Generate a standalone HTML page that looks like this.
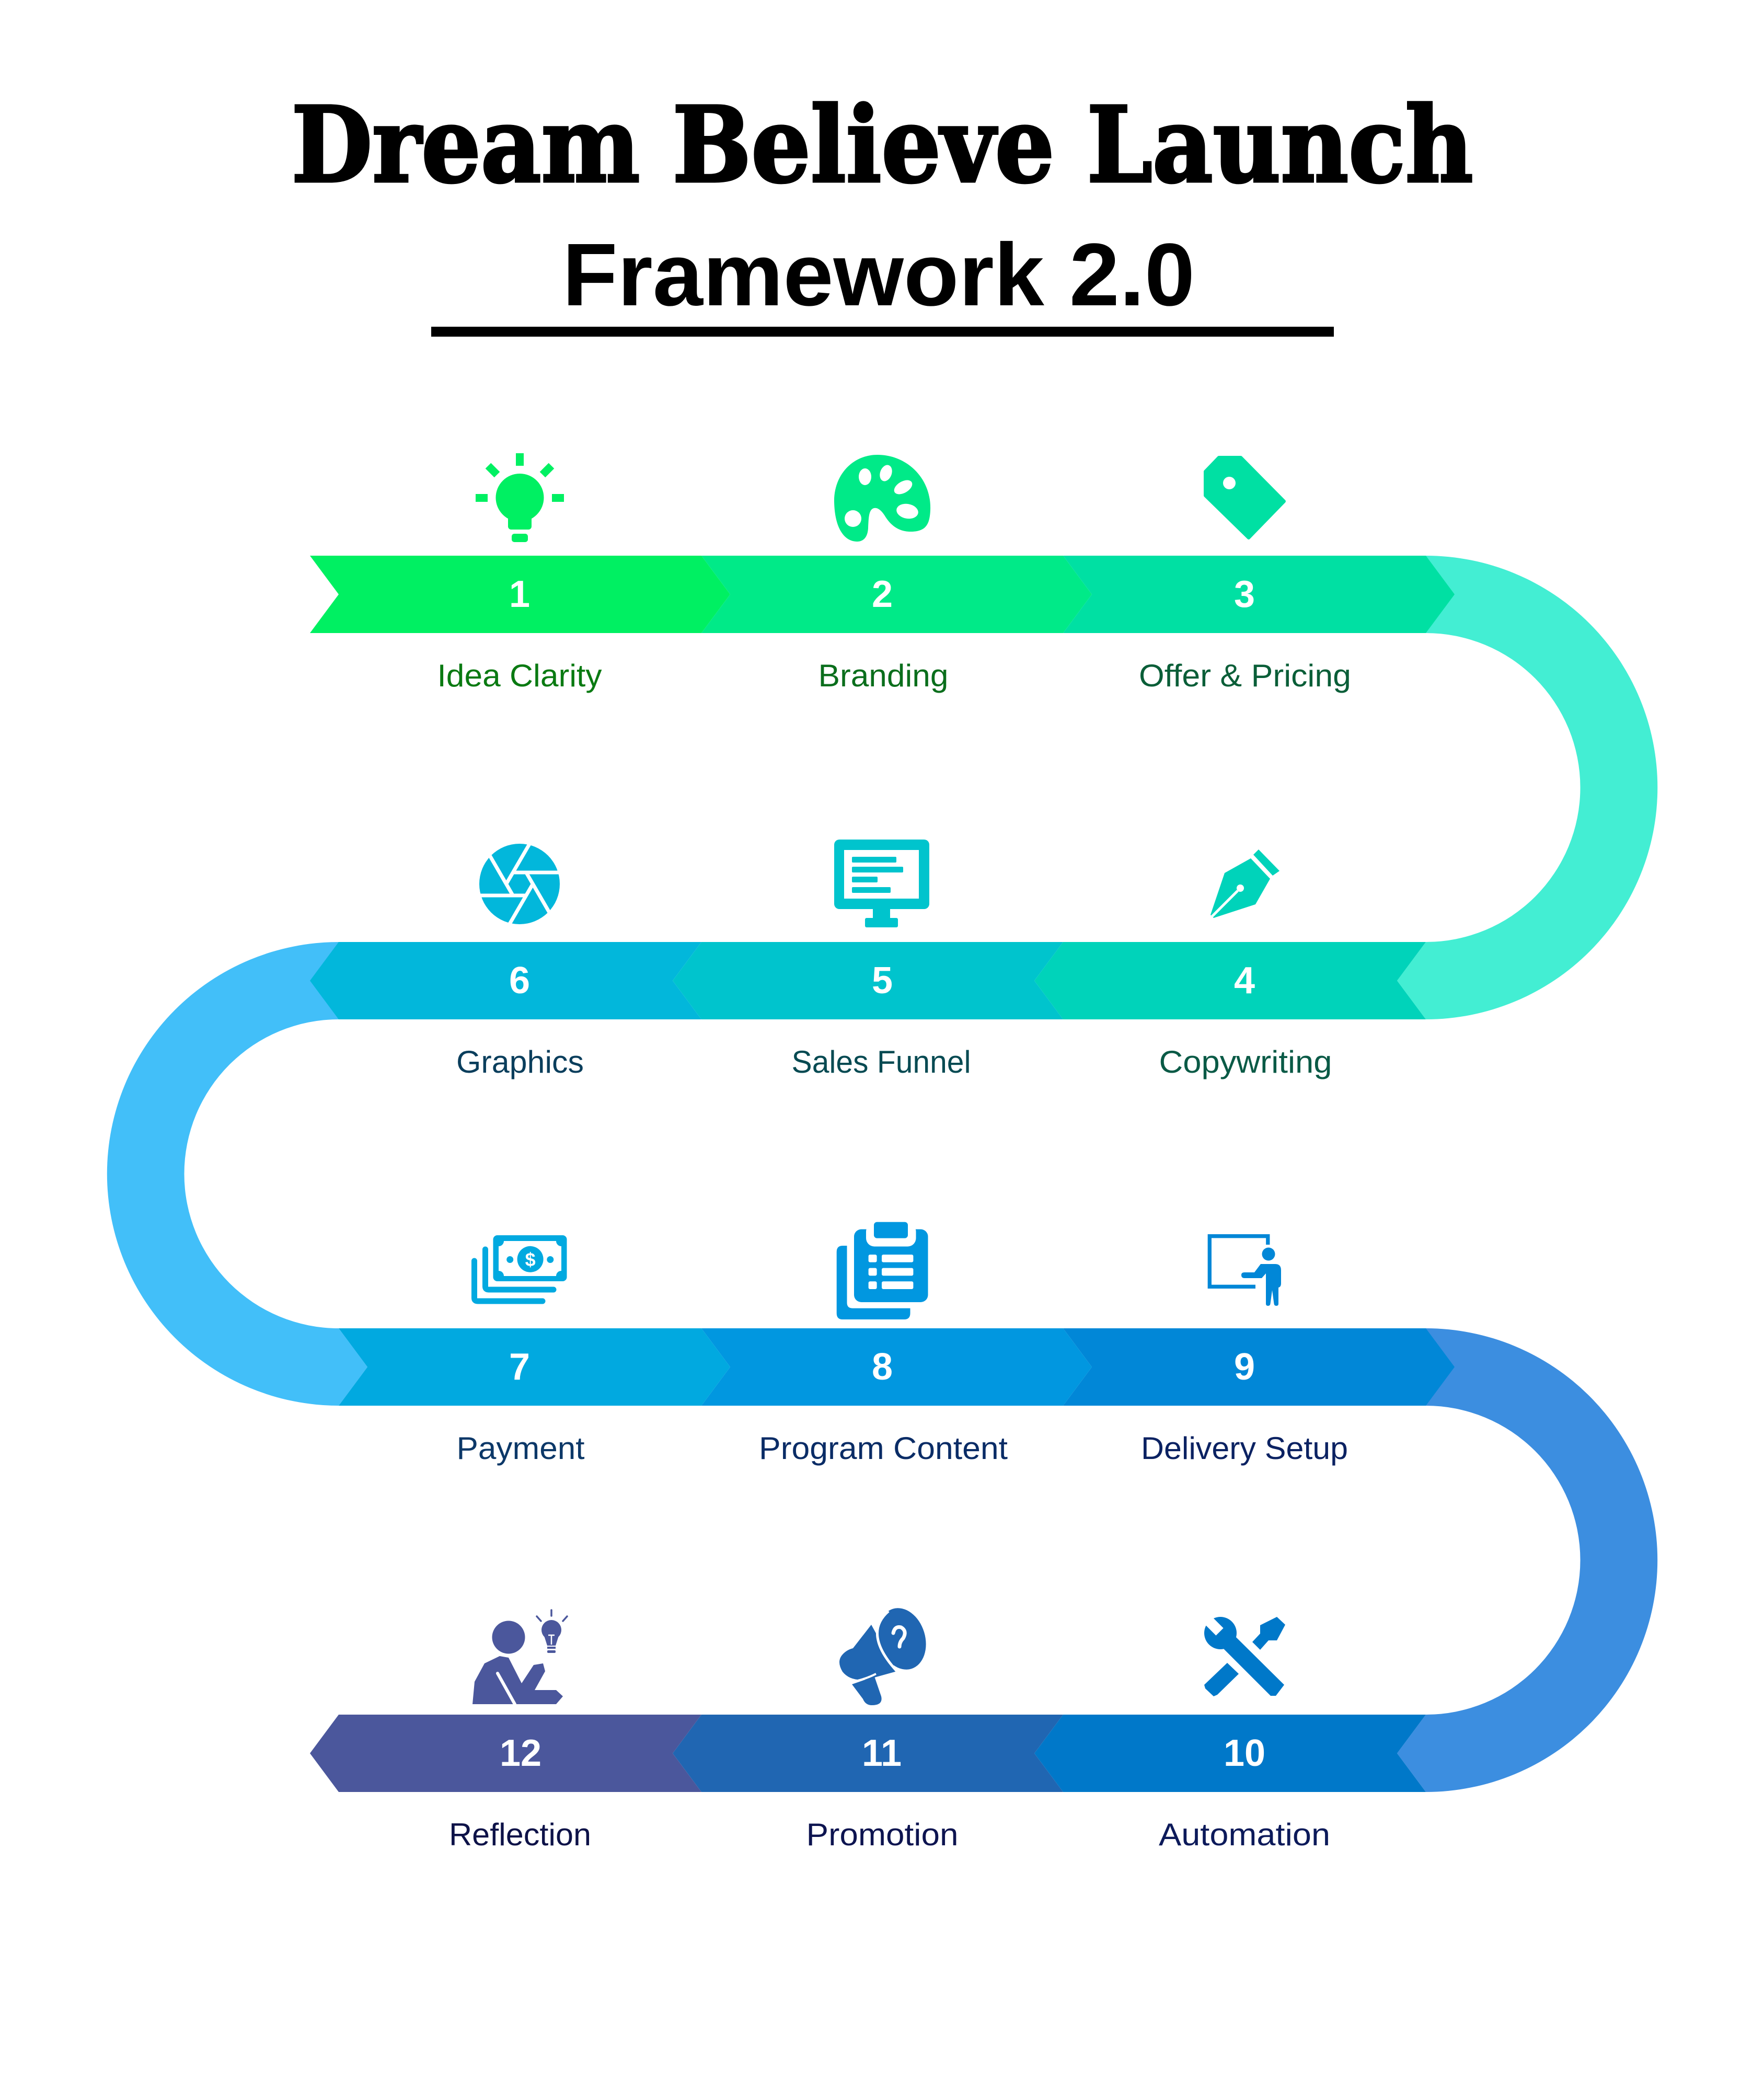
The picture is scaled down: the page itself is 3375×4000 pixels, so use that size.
<!DOCTYPE html>
<html>
<head>
<meta charset="utf-8">
<style>
html,body{margin:0;padding:0;background:#fff;}
svg{display:block;}
</style>
</head>
<body>
<svg xmlns="http://www.w3.org/2000/svg" width="3375" height="4000" viewBox="0 0 3375 4000">
<rect width="3375" height="4000" fill="#fff"/>

<!-- Title -->
<text x="1688" y="347" text-anchor="middle" font-family="'DejaVu Serif','Liberation Serif',serif" font-weight="bold" font-size="199" textLength="2261" lengthAdjust="spacingAndGlyphs" fill="#000" stroke="#000" stroke-width="5">Dream Believe Launch</text>
<text x="1681" y="584" text-anchor="middle" font-family="'Liberation Sans',sans-serif" font-weight="bold" font-size="170" textLength="1210" lengthAdjust="spacingAndGlyphs" fill="#000">Framework 2.0</text>
<rect x="825" y="625" width="1727" height="19" fill="#000"/>

<!-- Arcs -->
<path d="M2728,1063 A443.5,443.5 0 0 1 2728,1950 L2673,1876 L2728,1802 A295.5,295.5 0 0 0 2728,1211 Z" fill="#43EED3"/>
<path d="M648,1802 A443.5,443.5 0 0 0 648,2689 L703,2615 L648,2541 A295.5,295.5 0 0 1 648,1950 Z" fill="#42BFF9"/>
<path d="M2728,2541 A443.5,443.5 0 0 1 2728,3428 L2673,3354 L2728,3280 A295.5,295.5 0 0 0 2728,2689 Z" fill="#3C8EE0"/>

<!-- Row 1 -->
<polygon points="593,1063 1342,1063 1397,1137 1342,1211 593,1211 648,1137" fill="#00F062"/>
<polygon points="1342,1063 2034,1063 2089,1137 2034,1211 1342,1211 1397,1137" fill="#00EA88"/>
<polygon points="2034,1063 2728,1063 2783,1137 2728,1211 2034,1211 2089,1137" fill="#00E0A3"/>
<!-- Row 2 -->
<polygon points="2728,1802 2034,1802 1979,1876 2034,1950 2728,1950 2673,1876" fill="#00D3BA"/>
<polygon points="2034,1802 1342,1802 1287,1876 1342,1950 2034,1950 1979,1876" fill="#00C4CD"/>
<polygon points="1342,1802 648,1802 593,1876 648,1950 1342,1950 1287,1876" fill="#02B7DB"/>
<!-- Row 3 -->
<polygon points="648,2541 1342,2541 1397,2615 1342,2689 648,2689 703,2615" fill="#01A9E0"/>
<polygon points="1342,2541 2034,2541 2089,2615 2034,2689 1342,2689 1397,2615" fill="#0197E0"/>
<polygon points="2034,2541 2728,2541 2783,2615 2728,2689 2034,2689 2089,2615" fill="#0187D7"/>
<!-- Row 4 -->
<polygon points="2728,3280 2034,3280 1979,3354 2034,3428 2728,3428 2673,3354" fill="#0078C9"/>
<polygon points="2034,3280 1342,3280 1287,3354 1342,3428 2034,3428 1979,3354" fill="#2066B2"/>
<polygon points="1342,3280 648,3280 593,3354 648,3428 1342,3428 1287,3354" fill="#4B579C"/>

<!-- Numbers -->
<g font-family="'Liberation Sans',sans-serif" font-weight="bold" font-size="72" fill="#fff" text-anchor="middle">
<text x="994" y="1161">1</text>
<text x="1688" y="1161">2</text>
<text x="2381" y="1161">3</text>
<text x="994" y="1900">6</text>
<text x="1688" y="1900">5</text>
<text x="2381" y="1900">4</text>
<text x="994" y="2639">7</text>
<text x="1688" y="2639">8</text>
<text x="2381" y="2639">9</text>
<text x="996" y="3378">12</text>
<text x="1687" y="3378">11</text>
<text x="2381" y="3378">10</text>
</g>

<!-- Labels -->
<g font-family="'Liberation Sans',sans-serif" font-size="60" text-anchor="middle">
<text x="994" y="1313" fill="#0A7A12" textLength="315" lengthAdjust="spacingAndGlyphs">Idea Clarity</text>
<text x="1690" y="1313" fill="#0A6E1C" textLength="249" lengthAdjust="spacingAndGlyphs">Branding</text>
<text x="2382" y="1313" fill="#0A5E38" textLength="406" lengthAdjust="spacingAndGlyphs">Offer &amp; Pricing</text>
<text x="995" y="2052" fill="#0A3E5C" textLength="244" lengthAdjust="spacingAndGlyphs">Graphics</text>
<text x="1686" y="2052" fill="#064A52" textLength="343" lengthAdjust="spacingAndGlyphs">Sales Funnel</text>
<text x="2383" y="2052" fill="#0A5A46" textLength="331" lengthAdjust="spacingAndGlyphs">Copywriting</text>
<text x="996" y="2791" fill="#0C3868" textLength="245" lengthAdjust="spacingAndGlyphs">Payment</text>
<text x="1690" y="2791" fill="#0A2C66" textLength="476" lengthAdjust="spacingAndGlyphs">Program Content</text>
<text x="2381" y="2791" fill="#0B2262" textLength="396" lengthAdjust="spacingAndGlyphs">Delivery Setup</text>
<text x="995" y="3530" fill="#0D1248" textLength="272" lengthAdjust="spacingAndGlyphs">Reflection</text>
<text x="1688" y="3530" fill="#0D1450" textLength="291" lengthAdjust="spacingAndGlyphs">Promotion</text>
<text x="2381" y="3530" fill="#0C1A5A" textLength="328" lengthAdjust="spacingAndGlyphs">Automation</text>
</g>

<!-- Icon 1: light bulb -->
<g fill="#00F062">
<rect x="987" y="867" width="15" height="24"/>
<rect x="910" y="945" width="23" height="15"/>
<rect x="1056" y="945" width="23" height="15"/>
<line x1="934" y1="891" x2="951" y2="908" stroke="#00F062" stroke-width="15"/>
<line x1="1055" y1="891" x2="1038" y2="908" stroke="#00F062" stroke-width="15"/>
<circle cx="994.5" cy="952" r="46"/>
<rect x="972" y="978" width="45" height="35" rx="6"/>
<rect x="979" y="1021" width="31" height="16" rx="5"/>
</g>

<!-- Icon 2: palette -->
<path d="M1679,870 C1735,870 1782,915 1780,975 C1779,1005 1770,1016 1745,1017 C1720,1018 1705,1005 1695,990 C1688,978 1680,970 1672,972 C1662,975 1662,990 1661,1010 C1660,1030 1650,1036 1640,1036 C1615,1036 1597,1010 1596,960 C1595,910 1630,870 1679,870 Z" fill="#00EA88"/>
<g fill="#fff">
<ellipse cx="1655" cy="912" rx="12" ry="16"/>
<ellipse cx="1695" cy="905" rx="11" ry="16" transform="rotate(20 1695 905)"/>
<ellipse cx="1728" cy="932" rx="19" ry="11" transform="rotate(-30 1728 932)"/>
<ellipse cx="1736" cy="978" rx="21" ry="14" transform="rotate(10 1736 978)"/>
<circle cx="1632" cy="992" r="16"/>
</g>

<!-- Icon 3: tag -->
<path d="M2332,875 L2374,875 L2457,959 L2389,1029 L2306,948 L2306,902 Z" fill="#00E0A3" stroke="#00E0A3" stroke-width="6" stroke-linejoin="round"/>
<circle cx="2352" cy="924" r="12" fill="#fff"/>

<!-- Icon 6: aperture -->
<circle cx="994" cy="1691" r="77" fill="#02B7DB"/>
<g stroke="#fff" stroke-width="7" stroke-linecap="butt">
<line x1="981.3" y1="1669" x2="1080" y2="1669"/>
<line x1="1006.7" y1="1669" x2="1056" y2="1754"/>
<line x1="1019.4" y1="1691" x2="970" y2="1776"/>
<line x1="1006.7" y1="1713" x2="908" y2="1713"/>
<line x1="981.3" y1="1713" x2="932" y2="1628"/>
<line x1="968.6" y1="1691" x2="1018" y2="1606"/>
</g>

<!-- Icon 5: monitor -->
<g fill="#00C4CD">
<rect x="1596" y="1606" width="182" height="133" rx="10"/>
<rect x="1670" y="1735" width="33" height="24"/>
<rect x="1655" y="1756" width="63" height="18" rx="3"/>
</g>
<rect x="1615" y="1626" width="143" height="93" fill="#fff"/>
<g fill="#00C4CD">
<rect x="1630" y="1639" width="85" height="11" rx="2"/>
<rect x="1630" y="1658" width="98" height="11" rx="2"/>
<rect x="1630" y="1677" width="49" height="11" rx="2"/>
<rect x="1630" y="1697" width="74" height="11" rx="2"/>
</g>

<!-- Icon 4: pen nib -->
<g fill="#00D3BA">
<polygon points="2393,1642 2430,1681 2402,1730 2322,1756 2316,1750 2343,1670"/>
<polygon points="2408,1625 2448,1666 2435,1675 2398,1635"/>
</g>
<line x1="2319" y1="1753" x2="2368" y2="1704" stroke="#fff" stroke-width="5"/>
<circle cx="2373" cy="1699" r="7" fill="#fff"/>

<!-- Icon 7: money -->
<g fill="none" stroke="#01A9E0" stroke-width="11" stroke-linecap="round">
<path d="M928.5,2390 V2461 Q928.5,2467 935,2467 H1059"/>
<path d="M907.5,2412 V2483 Q907.5,2489 914,2489 H1038"/>
</g>
<rect x="943.5" y="2363" width="141" height="88" rx="8" fill="#01A9E0"/>
<rect x="954" y="2374" width="120" height="67" fill="#fff"/>
<g fill="#01A9E0">
<circle cx="954" cy="2374" r="10"/>
<circle cx="1074" cy="2374" r="10"/>
<circle cx="954" cy="2441" r="10"/>
<circle cx="1074" cy="2441" r="10"/>
<circle cx="1014.6" cy="2408.8" r="25"/>
<circle cx="975.7" cy="2409.5" r="6.5"/>
<circle cx="1052.8" cy="2409.5" r="6.5"/>
</g>
<text x="1014.6" y="2422" text-anchor="middle" font-family="'Liberation Sans',sans-serif" font-weight="bold" font-size="36" fill="#fff">$</text>

<!-- Icon 8: clipboard -->
<path d="M1600.7,2395 Q1600.7,2383 1612,2383 H1620.5 V2492 Q1620.5,2502.6 1631,2502.6 H1741.5 V2512 Q1741.5,2524 1730,2524 H1612 Q1600.7,2524 1600.7,2512 Z" fill="#0197E0"/>
<rect x="1634" y="2351.5" width="141.5" height="139.5" rx="14" fill="#0197E0"/>
<rect x="1657" y="2340" width="95.5" height="44.5" rx="16" fill="#fff"/>
<rect x="1672" y="2337.6" width="65" height="31" rx="6" fill="#0197E0"/>
<g fill="#fff">
<rect x="1661.6" y="2400" width="16" height="14.6" rx="3"/>
<rect x="1661.6" y="2425.6" width="16" height="14.8" rx="3"/>
<rect x="1661.6" y="2451.3" width="16" height="14.7" rx="3"/>
<rect x="1687" y="2400" width="60.4" height="14.6" rx="3"/>
<rect x="1687" y="2425.6" width="60.4" height="14.8" rx="3"/>
<rect x="1687" y="2451.3" width="60.4" height="14.7" rx="3"/>
</g>

<!-- Icon 9: presenter -->
<path d="M2402,2461.3 H2314.3 V2364.7 H2425.8 V2381" fill="none" stroke="#0187D7" stroke-width="7.3"/>
<circle cx="2427" cy="2399" r="12.5" fill="#0187D7"/>
<path d="M2412,2418 H2440 Q2451,2418 2451,2430 V2455 Q2451,2462 2446,2463 V2494 Q2446,2498 2442,2498 Q2438,2498 2437.5,2494 L2434,2468 L2430.5,2494 Q2430,2498 2426,2498 Q2422,2498 2422,2494 V2436 L2414,2445 H2381 Q2375,2445 2375,2439 Q2375,2434 2381,2434 H2400 Z" fill="#0187D7"/>

<!-- Icon 12: reflection -->
<g fill="#4B579C">
<circle cx="973" cy="3132" r="31.5"/>
<polygon points="904,3260 908,3217 927,3182 956,3168 973,3171 998,3220 1021,3185 1039,3182 1043,3197 1023,3233 1064,3233 1077,3245 1064,3260"/>
<circle cx="1055" cy="3118" r="19"/>
<polygon points="1040,3126 1070,3126 1063,3148 1047,3148"/>
<rect x="1047" y="3150" width="16" height="4"/>
<rect x="1047" y="3157" width="16" height="5" rx="2"/>
</g>
<line x1="952" y1="3201" x2="985" y2="3260" stroke="#fff" stroke-width="6" stroke-linecap="round"/>
<g stroke="#4B579C" stroke-width="3.5" stroke-linecap="round">
<line x1="1055" y1="3080" x2="1055" y2="3091"/>
<line x1="1027" y1="3092" x2="1035" y2="3101"/>
<line x1="1085" y1="3092" x2="1077" y2="3101"/>
</g>
<path d="M1049,3128 H1061 M1055,3128 V3146" stroke="#fff" stroke-width="2.5" fill="none"/>

<!-- Icon 11: megaphone -->
<g fill="#2066B2">
<path d="M1667,3108 L1716,3197 L1662,3212 Q1628,3218 1612,3198 Q1600,3178 1612,3165 Q1620,3156 1632,3153 Z"/>
<path d="M1630,3222 L1673,3207 L1686,3245 Q1690,3262 1668,3262 Q1656,3262 1651,3250 Z"/>
<ellipse cx="1726" cy="3135" rx="44" ry="60" transform="rotate(-17 1726 3135)"/>
</g>
<path d="M1700,3082 Q1650,3125 1716,3197" fill="none" stroke="#fff" stroke-width="5"/>
<path d="M1626,3218 Q1652,3214 1676,3202" fill="none" stroke="#fff" stroke-width="4"/>
<path d="M1709,3124 Q1712,3110 1724,3113 Q1736,3120 1728,3134 Q1721,3141 1721,3150" fill="none" stroke="#fff" stroke-width="7" stroke-linecap="round"/>

<!-- Icon 10: tools -->
<g fill="#0078C9">
<polygon points="2348,3181 2370,3202 2329,3242 2322,3245 2306,3230 2304,3223"/>
<polygon points="2411,3109 2443,3093 2459,3108 2443,3138 2427,3138 2411,3156 2396,3141 2411,3125"/>
<polygon points="2364,3131 2457,3223 2441,3244 2431,3244 2341,3154"/>
<circle cx="2335" cy="3124" r="31"/>
</g>
<rect x="2308" y="3084" width="20" height="44" fill="#fff" transform="rotate(-45 2318 3106)"/>

</svg>
</body>
</html>
